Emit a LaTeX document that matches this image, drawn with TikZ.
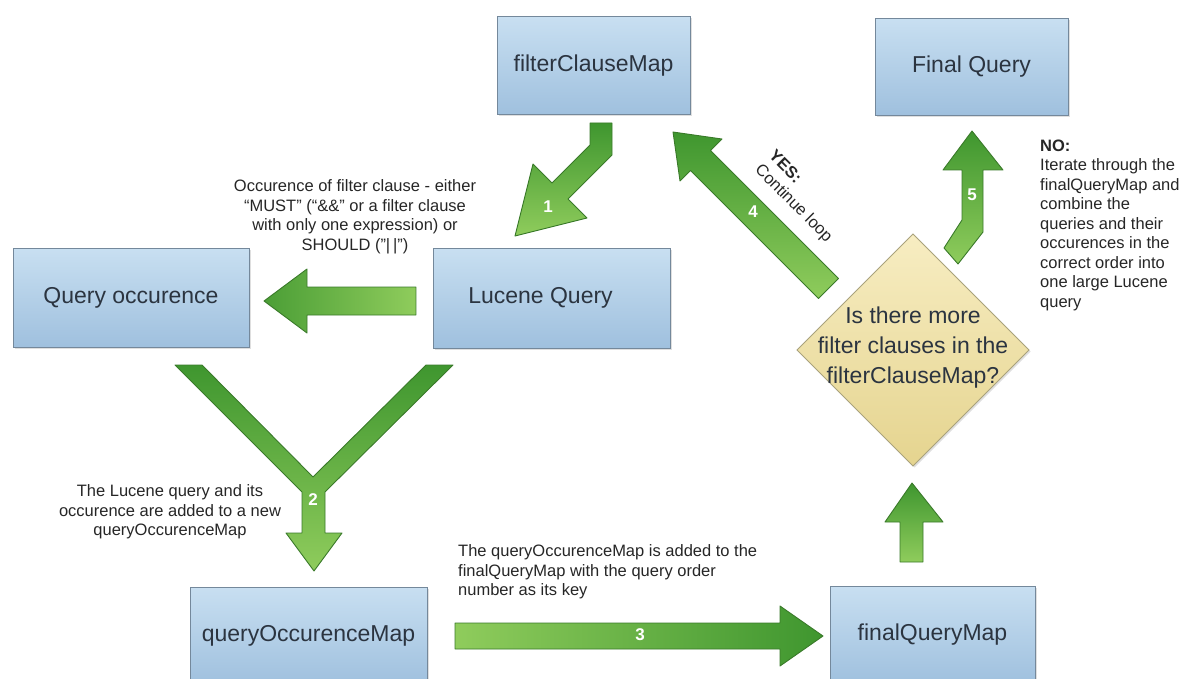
\documentclass[tikz,border=0pt]{standalone}
\usepackage{fontspec}
\setmainfont{Liberation Sans}
\usetikzlibrary{shadows}
\definecolor{boxtop}{HTML}{C8DFF1}
\definecolor{boxbot}{HTML}{9FC0DE}
\definecolor{boxline}{HTML}{74889B}
\definecolor{txt}{HTML}{2B3440}
\definecolor{dtop}{HTML}{F7EDC2}
\definecolor{dbot}{HTML}{E5D48F}
\definecolor{dline}{HTML}{A9A27C}
\definecolor{gl}{HTML}{8FCC5C}
\definecolor{gd}{HTML}{3F962F}
\definecolor{gline}{HTML}{3A7A2A}
\definecolor{anno}{HTML}{262626}
\tikzset{
  boxst/.style={draw=boxline, line width=1pt, rectangle, inner sep=0pt,
    top color=boxtop, bottom color=boxbot, text=txt,
    font=\fontsize{23}{27}\selectfont,
    drop shadow={shadow xshift=1.5pt, shadow yshift=-1.5pt, opacity=0.25}},
  arrowst/.style={draw=gline, line width=0.9pt, line join=round},
  numst/.style={text=white, font=\bfseries\fontsize{17}{20}\selectfont, inner sep=0pt},
  annost/.style={text=anno, font=\fontsize{16.5}{19.5}\selectfont, inner sep=0pt},
  diamtext/.style={text=txt, font=\fontsize{23}{30}\selectfont, inner sep=0pt, align=center}
}
\begin{document}
\begin{tikzpicture}[x=1pt,y=-1pt]
\useasboundingbox (0,0) rectangle (1185,679);
\clip (0,0) rectangle (1185,679);

% boxes
\node[boxst, minimum width=193pt, minimum height=98pt] (fcm) at (593.5,66) {filterClauseMap};
\node[boxst, minimum width=193pt, minimum height=97pt] (fq) at (971.5,67) {Final Query};
\node[boxst, minimum width=236pt, minimum height=99pt] (qo) at (131,298) {Query occurence};
\node[boxst, minimum width=237pt, minimum height=100pt] (lq) at (551.5,298) {Lucene Query\hspace*{22pt}};
\node[boxst, minimum width=237pt, minimum height=98pt] (qom) at (308.5,636) {queryOccurenceMap};
\node[boxst, minimum width=205pt, minimum height=98pt] (fqm) at (932.5,635) {finalQueryMap};

% diamond
\draw[draw=dline, line width=1pt, top color=dtop, bottom color=dbot,
      drop shadow={shadow xshift=1.5pt, shadow yshift=-1.5pt, opacity=0.25}]
  (913,234) -- (1029,350) -- (913,466) -- (797,350) -- cycle;
\node[diamtext] (dq) at (913,348) {Is there more\\filter clauses in the\\filterClauseMap?};

% arrow 1
\draw[arrowst, top color=gd, bottom color=gl]
  (590,123) -- (612,123) -- (612,155) -- (568,199) -- (587,218) -- (515,236)
  -- (533,164) -- (552,183) -- (590,145) -- cycle;
\node[numst] (n1) at (548,207) {1};

% left arrow (Lucene -> Query occurence)
\draw[arrowst, left color=gd!85!gl, right color=gl]
  (416,287) -- (307,287) -- (307,269) -- (264,301) -- (307,333) -- (307,315) -- (416,315) -- cycle;

% arrow 2 (V)
\draw[arrowst, top color=gd, bottom color=gl]
  (175,365) -- (202,365) -- (313,477) -- (426,365) -- (453,365) -- (325,492)
  -- (325,533) -- (342,533) -- (314,571) -- (286,533) -- (302,533) -- (302,492) -- cycle;
\node[numst] (n2) at (313,500) {2};

% arrow 3
\draw[arrowst, left color=gl, right color=gd]
  (455,623) -- (780,623) -- (780,606) -- (823,636) -- (780,666) -- (780,649) -- (455,649) -- cycle;
\node[numst] (n3) at (640,635) {3};

% up arrow
\draw[arrowst, top color=gd, bottom color=gl]
  (900,562) -- (900,522) -- (885,522) -- (912,483) -- (943,522) -- (923,522) -- (923,562) -- cycle;

% arrow 4
\draw[arrowst, top color=gd, bottom color=gl]
  (818.5,298.5) -- (690.5,170.5) -- (680,181) -- (673,132) -- (722,139) -- (710.5,150.5) -- (838.5,278.5) -- cycle;
\node[numst] (n4) at (753,212) {4};

% arrow 5
\draw[arrowst, top color=gd, bottom color=gl]
  (962,170) -- (943,170) -- (972,131) -- (1003,170) -- (983,170) -- (983,232)
  -- (958,264) -- (944,248) -- (962,220) -- cycle;
\node[numst] (n5) at (972,195) {5};

% annotations
\node[annost, align=center] (t1) at (355,217)
  {Occurence of filter clause - either\\“MUST” (“\&\&” or a filter clause\\with only one expression) or\\SHOULD ("|\,|")};
\node[annost, align=center] (t2) at (170,512)
  {The Lucene query and its\\occurence are added to a new\\queryOccurenceMap};
\node[annost, align=left, anchor=west] (t3) at (458,572)
  {The queryOccurenceMap is added to the\\finalQueryMap with the query order\\number as its key};
\node[annost, align=left, anchor=west] (t4) at (1040,225)
  {\textbf{NO:}\\Iterate through the\\finalQueryMap and\\combine the\\queries and their\\occurences in the\\correct order into\\one large Lucene\\query};
\node[annost, align=left, rotate=-45] (yes) at (800,197) {\textbf{YES:}\\Continue loop};
\end{tikzpicture}
\end{document}
